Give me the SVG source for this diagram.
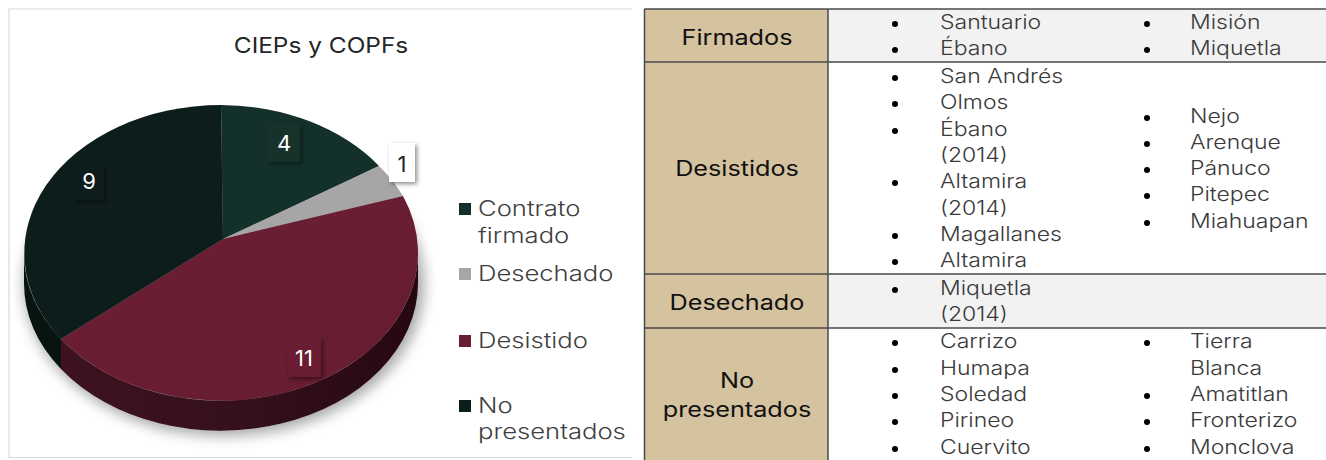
<svg xmlns="http://www.w3.org/2000/svg" width="1326" height="460" viewBox="0 0 1326 460">
<defs>
<style>
.t{font-family:"Inter","Open Sans","DejaVu Sans",sans-serif;}
.title{font-size:22px;fill:#262626;font-weight:400;text-anchor:middle;}
.leg{font-size:21px;fill:#404040;font-weight:300;}
.lab{font-size:22px;fill:#ffffff;font-weight:400;text-anchor:middle;}
.hdr{font-size:21px;fill:#111111;font-weight:400;text-anchor:middle;}
.item{font-size:19.5px;fill:#3a3a3a;font-weight:300;}
.grid{stroke:#4a4a4a;stroke-width:1.5;fill:none;}
.bul{fill:#000;}
</style>
<filter id="blur" x="-20%" y="-20%" width="140%" height="140%"><feGaussianBlur stdDeviation="7"/></filter>
<filter id="ds" x="-40%" y="-40%" width="180%" height="180%"><feDropShadow dx="2" dy="2" stdDeviation="2" flood-color="#000" flood-opacity="0.45"/></filter>
<linearGradient id="redSide" x1="0" y1="0" x2="1" y2="0">
<stop offset="0" stop-color="#3e1220"/><stop offset="0.5" stop-color="#35101c"/><stop offset="1" stop-color="#260811"/>
</linearGradient>
<linearGradient id="redTop" x1="0" y1="0" x2="1" y2="1">
<stop offset="0" stop-color="#6c1f35"/><stop offset="1" stop-color="#661c31"/>
</linearGradient>
</defs>
<rect width="1326" height="460" fill="#ffffff"/>

<g id="chart">
<path d="M632,9 L9,9 L9,457.5 L632,457.5" fill="none" stroke="#d9d9d9" stroke-width="1.2"/>
<g transform="translate(321,0) scale(1.11,1)"><text class="t title" x="0" y="53">CIEPs y COPFs</text></g>
<ellipse cx="224" cy="284" rx="200" ry="152" fill="#000" opacity="0.35" filter="url(#blur)"/>
<g id="pie-sides">
<path d="M418,253 A197,148 0 0,1 61,339 L61,369 A197,148 0 0,0 418,283 Z" fill="url(#redSide)"/>
<path d="M61,339 A197,148 0 0,1 24,253 L24,283 A197,148 0 0,0 61,369 Z" fill="#07140f"/>
</g>
<g id="slice-firmado"><path d="M223,239 L221,105 A197,148 0 0,1 379,166 Z" fill="#14302a"/></g>
<g id="slice-desechado"><path d="M223,239 L379,166 A197,148 0 0,1 403,196 Z" fill="#a6a6a6"/></g>
<g id="slice-desistido"><path d="M223,239 L403,196 A197,148 0 0,1 61,339 Z" fill="url(#redTop)"/></g>
<g id="slice-nopresentados"><path d="M223,239 L61,339 A197,148 0 0,1 221,105 Z" fill="#0d1d1b"/></g>

<g id="label-4"><rect x="268" y="124" width="32" height="38" fill="#14302a" filter="url(#ds)"/><text class="t lab" x="284" y="151">4</text></g>
<g id="label-1"><rect x="389" y="143" width="26" height="39" fill="#ffffff" filter="url(#ds)"/><text class="t lab" x="402" y="172" style="fill:#262626">1</text></g>
<g id="label-9"><rect x="74" y="166" width="30" height="34" fill="#0d1d1b" filter="url(#ds)"/><text class="t lab" x="89" y="189">9</text></g>
<g id="label-11"><rect x="288" y="338" width="33" height="39" fill="#6a1e33" filter="url(#ds)"/><text class="t lab" x="304" y="366">11</text></g>

<g id="legend">
<rect x="459" y="203" width="12" height="12" fill="#14302a"/>
<rect x="459" y="268" width="12" height="12" fill="#a6a6a6"/>
<rect x="459" y="335" width="12" height="12" fill="#6a1e33"/>
<rect x="459" y="400" width="12" height="12" fill="#0d1d1b"/>
<g transform="translate(478,0) scale(1.22,1)">
<text class="t leg" x="0" y="216">Contrato</text>
<text class="t leg" x="0" y="243">firmado</text>
<text class="t leg" x="0" y="281">Desechado</text>
<text class="t leg" x="0" y="348">Desistido</text>
<text class="t leg" x="0" y="413">No</text>
<text class="t leg" x="0" y="439">presentados</text>
</g>
</g>
</g>

<g id="table">
<rect x="644.5" y="9" width="183.5" height="452" fill="#d5c29f"/>
<rect x="828" y="9" width="498" height="53" fill="#f2f2f2"/>
<rect x="828" y="274" width="498" height="54" fill="#f2f2f2"/>
<g id="grid">
<line class="grid" x1="644.5" y1="9" x2="1326" y2="9"/>
<line class="grid" x1="644.5" y1="62" x2="1326" y2="62"/>
<line class="grid" x1="644.5" y1="274" x2="1326" y2="274"/>
<line class="grid" x1="644.5" y1="328" x2="1326" y2="328"/>
<line class="grid" x1="644.5" y1="9" x2="644.5" y2="460"/>
<line class="grid" x1="828" y1="9" x2="828" y2="460"/>
</g>

<g id="headers" transform="translate(737,0) scale(1.2,1)">
<text class="t hdr" x="0" y="45">Firmados</text>
<text class="t hdr" x="0" y="176">Desistidos</text>
<text class="t hdr" x="0" y="310">Desechado</text>
<text class="t hdr" x="0" y="388">No</text>
<text class="t hdr" x="0" y="417">presentados</text>
</g>

<g id="bullets">
<circle class="bul" cx="895" cy="24" r="3"/>
<circle class="bul" cx="895" cy="50" r="3"/>
<circle class="bul" cx="1147" cy="24" r="3"/>
<circle class="bul" cx="1147" cy="50" r="3"/>
<circle class="bul" cx="895" cy="78" r="3"/>
<circle class="bul" cx="895" cy="104" r="3"/>
<circle class="bul" cx="895" cy="131" r="3"/>
<circle class="bul" cx="895" cy="183" r="3"/>
<circle class="bul" cx="895" cy="236" r="3"/>
<circle class="bul" cx="895" cy="262" r="3"/>
<circle class="bul" cx="1147" cy="118" r="3"/>
<circle class="bul" cx="1147" cy="144" r="3"/>
<circle class="bul" cx="1147" cy="170" r="3"/>
<circle class="bul" cx="1147" cy="196" r="3"/>
<circle class="bul" cx="1147" cy="223" r="3"/>
<circle class="bul" cx="895" cy="290" r="3"/>
<circle class="bul" cx="895" cy="343" r="3"/>
<circle class="bul" cx="895" cy="370" r="3"/>
<circle class="bul" cx="895" cy="396" r="3"/>
<circle class="bul" cx="895" cy="422" r="3"/>
<circle class="bul" cx="895" cy="449" r="3"/>
<circle class="bul" cx="1147" cy="343" r="3"/>
<circle class="bul" cx="1147" cy="396" r="3"/>
<circle class="bul" cx="1147" cy="422" r="3"/>
<circle class="bul" cx="1147" cy="449" r="3"/>
</g>

<g id="col1-items" transform="translate(940,0) scale(1.18,1)">
<text class="t item" x="0" y="29">Santuario</text>
<text class="t item" x="0" y="55">Ébano</text>
<text class="t item" x="0" y="83">San Andrés</text>
<text class="t item" x="0" y="109">Olmos</text>
<text class="t item" x="0" y="136">Ébano</text>
<text class="t item" x="0" y="162">(2014)</text>
<text class="t item" x="0" y="188">Altamira</text>
<text class="t item" x="0" y="215">(2014)</text>
<text class="t item" x="0" y="241">Magallanes</text>
<text class="t item" x="0" y="267">Altamira</text>
<text class="t item" x="0" y="295">Miquetla</text>
<text class="t item" x="0" y="321">(2014)</text>
<text class="t item" x="0" y="348">Carrizo</text>
<text class="t item" x="0" y="375">Humapa</text>
<text class="t item" x="0" y="401">Soledad</text>
<text class="t item" x="0" y="427">Pirineo</text>
<text class="t item" x="0" y="454">Cuervito</text>
</g>

<g id="col2-items" transform="translate(1190,0) scale(1.18,1)">
<text class="t item" x="0" y="29">Misión</text>
<text class="t item" x="0" y="55">Miquetla</text>
<text class="t item" x="0" y="123">Nejo</text>
<text class="t item" x="0" y="149">Arenque</text>
<text class="t item" x="0" y="175">Pánuco</text>
<text class="t item" x="0" y="201">Pitepec</text>
<text class="t item" x="0" y="228">Miahuapan</text>
<text class="t item" x="0" y="348">Tierra</text>
<text class="t item" x="0" y="375">Blanca</text>
<text class="t item" x="0" y="401">Amatitlan</text>
<text class="t item" x="0" y="427">Fronterizo</text>
<text class="t item" x="0" y="454">Monclova</text>
</g>
</g>
</svg>
